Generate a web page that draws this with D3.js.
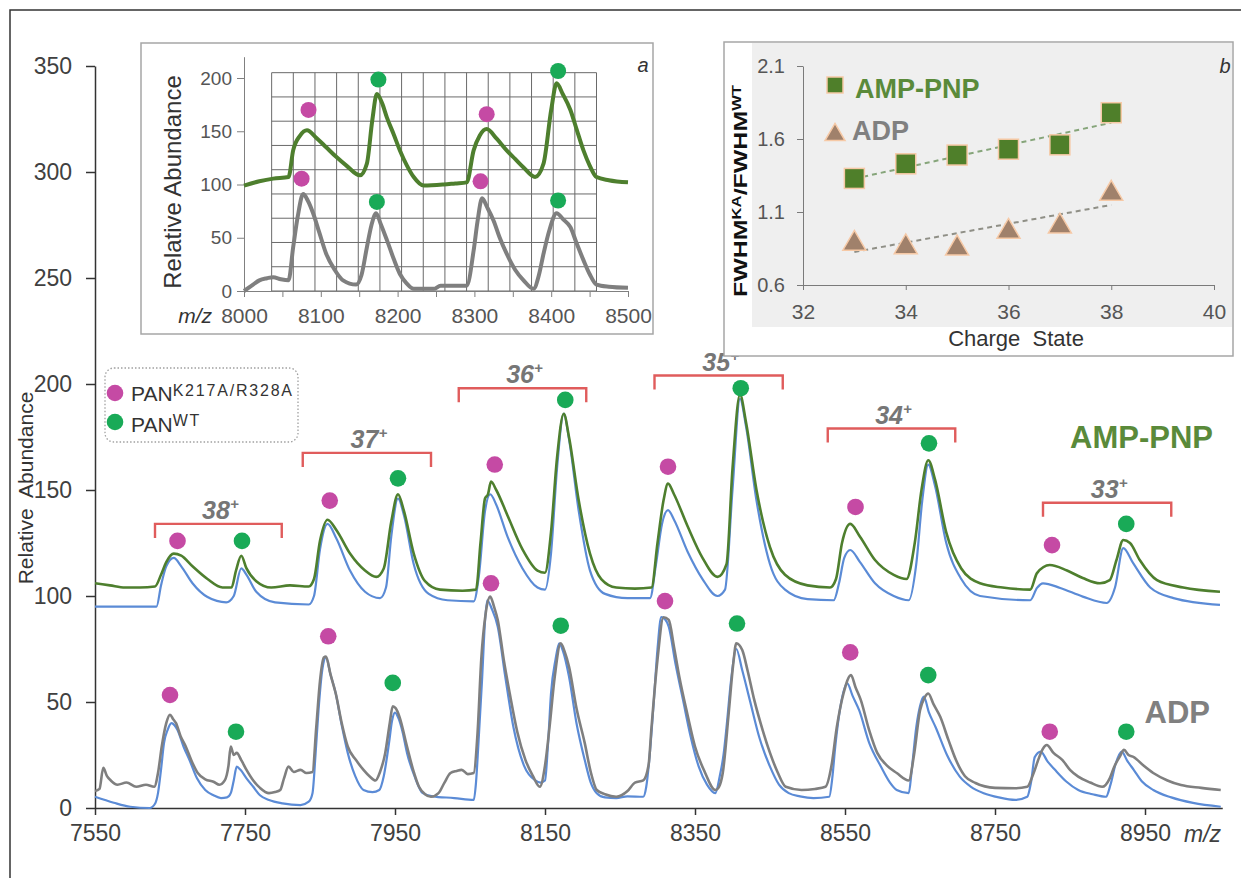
<!DOCTYPE html>
<html><head><meta charset="utf-8">
<script src="https://cdn.jsdelivr.net/npm/d3@7"></script>
<style>body{margin:0;background:#fff}svg{display:block}text{font-family:"Liberation Sans",Arial,sans-serif}</style>
</head><body><svg id="c" width="1241" height="878"></svg>
<script>
// ---------------- DATA ----------------
const mainXTicks = [7550,7750,7950,8150,8350,8550,8750,8950];
const mainYTicks = [0,50,100,150,200,250,300,350];

// AMP-PNP (upper) traces [m/z, relative abundance]
const ampGreen = [[7550,106],[7570,105],[7590,104],[7610,104],[7630,104.5],[7638,110],[7645,116],[7655,120],[7665,119],[7680,114],[7700,108],[7720,104],[7732,104],[7738,112],[7745,119],[7752,113],[7765,107],[7785,104],[7810,105],[7835,104.5],[7842,108],[7850,126],[7860,136],[7872,131],[7890,120],[7910,112],[7925,109],[7935,113],[7945,135],[7954,148],[7962,140],[7975,120],[7990,107],[8010,103],[8040,102.5],[8058,103],[8064,125],[8070,146],[8074,148],[8078,154],[8085,150],[8100,138],[8120,122],[8140,112],[8150,111],[8158,130],[8166,165],[8175,186],[8182,175],[8195,145],[8210,120],[8225,108],[8245,104],[8270,103.5],[8292,104],[8300,125],[8308,145],[8314,153],[8322,148],[8340,133],[8360,118],[8380,109],[8392,115],[8400,160],[8410,195],[8418,182],[8432,150],[8450,123],[8470,110],[8500,105],[8530,104],[8538,108],[8546,125],[8557,134],[8570,128],[8590,117],[8615,110],[8632,108],[8643,125],[8652,150],[8661,164],[8670,155],[8685,130],[8705,113],[8730,106],[8760,104],[8797,103],[8806,110.8],[8823,114.6],[8846,112],[8867,108.5],[8890,106],[8903,107.5],[8912,117],[8921,126.4],[8930,125],[8943,117],[8966,107.5],[9001,104],[9050,102]];
const ampBlue = [[7550,95],[7600,95],[7632,95],[7638,105],[7645,114],[7655,118],[7665,114],[7680,106],[7700,99.5],[7725,97],[7735,100],[7745,113],[7752,110],[7765,102],[7790,97],[7835,96],[7842,100],[7850,122],[7860,134],[7872,127],[7890,112],[7910,102],[7930,99],[7938,104],[7945,128],[7954,146],[7962,138],[7975,115],[7995,101],[8020,98],[8055,97.5],[8062,110],[8070,140],[8077,148],[8085,143],[8100,128],[8120,113],[8140,104],[8150,103],[8158,120],[8166,160],[8175,186],[8182,174],[8195,140],[8210,112],[8230,101],[8260,99],[8290,99],[8298,115],[8306,134],[8314,140.5],[8322,136],[8340,121],[8360,108],[8380,100],[8390,103],[8400,150],[8410,193],[8418,180],[8432,145],[8450,115],[8470,103],[8500,98.5],[8535,98],[8542,106],[8549,118],[8557,121.7],[8570,116],[8590,106],[8615,100],[8635,98],[8645,115],[8653,145],[8661,162],[8670,152],[8685,125],[8705,108],[8730,100],[8797,98],[8806,103.8],[8814,106],[8837,103.8],[8867,99.7],[8899,96.7],[8910,104],[8921,122.6],[8934,115.6],[8957,104],[8988,99],[9050,95.8]];

// ADP (lower) traces
const adpGray = [[7550,8],[7556,9],[7561,19],[7566,15],[7571,13],[7580,11],[7592,12],[7605,10],[7618,11],[7629,10],[7634,16.5],[7639,29],[7645,40],[7650,44],[7654,42],[7658,40],[7664,34],[7671,29],[7679,22],[7687,16.5],[7697,13.5],[7708,12.4],[7716,11],[7723,13],[7728,20],[7731,29],[7735,25],[7739,26],[7745,22.6],[7752,18],[7761,13],[7770,9.5],[7782,7],[7790,7.5],[7797,8.5],[7802,14],[7808,19.5],[7815,17],[7824,18],[7832,16.5],[7840,17],[7845,38],[7850,60],[7855,71],[7858,71.4],[7864,63],[7871,54],[7879,40],[7887,29],[7898,22.6],[7908,18],[7916,15],[7924,13],[7930,17],[7937,26],[7943,40],[7947,48],[7951,47],[7956,43],[7966,29],[7975,17],[7982,10],[7990,6.5],[7998,5.3],[8008,7],[8016,12],[8024,16.5],[8032,17.5],[8039,18],[8047,16],[8055,16.5],[8060,35],[8065,70],[8071,92],[8077,99.7],[8082,95],[8087,88.7],[8095,70],[8103,54],[8113,36],[8124,22.6],[8134,15],[8143,10],[8150,20],[8156,38],[8163,62],[8171,77.7],[8176,74],[8182,66.7],[8192,47],[8203,30.6],[8211,17],[8219,8.5],[8230,6.5],[8245,5.3],[8260,8],[8270,12],[8281,13],[8288,20],[8292,38],[8300,70],[8308,90],[8315,88.7],[8322,76],[8329,62],[8340,44],[8350,29],[8363,17],[8377,8.5],[8382,10],[8387,16.5],[8395,45],[8401,68],[8405,77.7],[8413,74.5],[8420,65],[8429,51],[8440,37],[8450,26],[8460,17],[8471,10],[8492,8.5],[8510,9],[8524,10],[8532,20],[8539,38],[8548,54],[8558,62.7],[8564,57],[8571,51],[8582,37],[8593,26],[8606,20],[8619,16.5],[8635,13],[8642,25],[8650,46],[8656,52],[8661,54],[8668,49],[8677,43],[8688,32],[8698,22.6],[8710,15],[8724,11.8],[8750,9.5],[8777,9.3],[8793,10],[8801,16],[8809,24],[8814,28],[8819,29.7],[8828,26],[8840,22.6],[8850,18],[8861,14.8],[8877,12],[8893,10],[8903,14],[8909,19.5],[8916,24],[8922,27.4],[8928,25],[8935,24],[8948,20],[8961,16.5],[8980,13],[8998,10.8],[9025,9.5],[9051,8.5]];
const adpBlue = [[7550,5.3],[7575,2.5],[7597,0.6],[7623,0],[7630,2],[7634,7],[7638,18],[7642,30.6],[7647,37],[7652,40],[7656,39],[7660,36.8],[7668,29],[7676,22.6],[7686,14],[7697,8.5],[7708,6],[7718,4.7],[7726,5],[7731,7],[7735,13],[7739,19.5],[7744,18],[7752,14],[7761,10],[7770,6],[7782,3.8],[7800,2.2],[7824,1.4],[7835,3],[7840,7],[7844,25],[7848,46],[7853,65],[7858,71],[7864,63],[7871,54],[7879,39],[7887,26],[7897,15],[7908,8.5],[7920,7.5],[7929,8.5],[7935,15],[7942,30.6],[7946,41],[7950,45],[7955,42],[7960,36],[7966,26],[7976,15],[7987,7],[8000,5.5],[8029,4.7],[8055,3.8],[8058,12],[8061,29],[8066,60],[8070,88],[8073,98],[8079,94],[8087,85.5],[8097,62],[8108,38],[8122,20],[8137,13],[8144,12],[8150,13],[8154,30],[8158,54],[8164,70],[8169,77.7],[8174,74],[8182,62],[8192,40],[8203,22.6],[8211,12],[8219,7],[8230,5],[8245,4.7],[8260,5.5],[8281,5.3],[8285,10],[8289,22.6],[8295,50],[8300,75],[8305,90],[8310,89],[8315,85.5],[8324,68],[8334,51],[8344,34],[8355,19.5],[8366,11],[8377,7],[8383,15],[8388,25],[8392,38],[8398,60],[8405,75],[8413,65],[8423,51],[8436,33],[8450,19.5],[8462,11],[8475,7],[8490,5.5],[8508,4.7],[8529,5.3],[8533,14],[8537,29],[8544,48],[8553,58.8],[8560,53],[8569,46],[8582,31],[8598,19.5],[8610,12],[8619,8.5],[8635,7],[8639,18],[8645,38],[8650,48],[8655,52.5],[8662,45],[8671,38],[8686,25],[8703,14.8],[8718,10],[8735,7],[8755,5],[8777,3.8],[8793,5.3],[8798,12],[8803,24],[8811,26.6],[8820,22],[8830,18],[8845,12.5],[8861,8.5],[8880,6.5],[8898,5.3],[8904,11],[8911,21],[8919,26.6],[8926,22.5],[8935,18],[8946,12.5],[8961,8.5],[8985,5],[9014,2.4],[9051,0.6]];

// peak markers
const ampMutDots = [[7660,126],[7863,145],[8083,162],[8314,161],[8564,142],[8826,124]];
const ampWtDots  = [[7746,126],[7954,155.5],[8177,192.5],[8411,198],[8662,172],[8925,134]];
const adpMutDots = [[7650,53.3],[7861,81],[8078,106],[8310,97.6],[8557,73.4],[8823,36]];
const adpWtDots  = [[7738,36],[7947,59],[8171,86],[8406,87],[8661,62.7],[8925,36]];

// charge-state brackets
const charges      = ["38","37","36","35","34","33"];
const bracketLo    = [7630,7827,8035,8296,8527,8814];
const bracketHi    = [7799,7998,8205,8467,8697,8985];
const bracketLevel = [134,167.5,198,204,179,144];

// inset a
const insetXTicks = [8000,8050,8100,8150,8200,8250,8300,8350,8400,8450,8500];
const insetYTicks = [0,50,100,150,200];
const insetGreen = [[8000,99],[8020,103],[8038,105.5],[8058,107],[8064,132],[8073,146],[8082,151],[8094,144],[8107,135],[8120,126],[8133,118],[8151,108.6],[8160,119.6],[8167,160],[8173,185],[8180,176],[8186,163],[8195,147],[8203,132],[8212,118],[8221,107],[8234,99],[8260,100],[8275,101],[8290,102],[8299,132],[8307,146],[8316,152],[8329,143],[8342,132],[8353,124],[8364,116],[8379,107],[8390,119.6],[8400,170],[8407,195],[8415,185],[8425,170],[8433,152],[8442,132],[8450,118],[8459,107],[8475,104],[8500,102]];
const insetGray = [[8000,0],[8010,5],[8020,10],[8030,12],[8038,13],[8048,11],[8058,10],[8064,41],[8070,70],[8077,91],[8083,85],[8090,73],[8098,55],[8107,35],[8118,20],[8129,10],[8146,6],[8153,15],[8160,41],[8166,62],[8172,73],[8178,63],[8186,48],[8195,30],[8203,16],[8212,7],[8221,2],[8247,2],[8256,5],[8275,5],[8290,5],[8299,38],[8304,65],[8310,87],[8317,78],[8325,66],[8333,50],[8342,35],[8353,20],[8364,10],[8377,2],[8384,15],[8390,35],[8398,58],[8407,73],[8416,67],[8425,60],[8433,45],[8442,29],[8450,16],[8459,6],[8475,4],[8500,3]];
const insetMutDots = [[8084,170],[8075,105.5],[8316,166],[8308,103]];
const insetWtDots  = [[8175,198.5],[8173,83.6],[8409,206.6],[8409,85]];

// inset b
const chargeState = [33,34,35,36,37,38];
const fwhmAmp = [1.33,1.43,1.49,1.53,1.56,1.78];
const fwhmAdp = [0.906,0.882,0.874,0.988,1.024,1.249];
const bXTicks = [32,34,36,38,40];
const bYTicks = [0.6,1.1,1.6,2.1];

// ---------------- DRAW ----------------
const svg = d3.select("#c");
const C = {green:"#4e7f2e", blue:"#5b8bd6", gray:"#7f7f7f", mag:"#c54aa4", wt:"#19aa57", red:"#e05c5c",
           label:"#404040", ampTxt:"#5a8a3a", adpTxt:"#808080"};
const fmtInt = d3.format("d");

// outer frame
svg.append("rect").attr("x",10).attr("y",10).attr("width",1300).attr("height",900)
  .attr("fill","none").attr("stroke","#333").attr("stroke-width",1.5);

function styleAxis(g, size, color, stroke){
  g.attr("font-family",'"Liberation Sans", Arial, sans-serif').attr("font-size",size);
  g.selectAll("text").attr("fill",color);
  g.selectAll("line,path").attr("stroke",stroke);
}

// ---- main chart ----
const x = d3.scaleLinear().domain([7550, 9053]).range([95, 1222.25]);
const y = d3.scaleLinear().domain([0, 350]).range([808, 66]);

const gy = svg.append("g").attr("transform",`translate(${x(7550)},0)`)
  .call(d3.axisLeft(y).tickValues(mainYTicks).tickSize(9).tickPadding(14).tickSizeOuter(0).tickFormat(fmtInt));
styleAxis(gy, 23, C.label, "#333");
gy.selectAll("line,path").attr("stroke-width",1.5);
const gx = svg.append("g").attr("transform",`translate(0,${y(0)})`)
  .call(d3.axisBottom(x).tickValues(mainXTicks).tickSize(7).tickPadding(10).tickSizeOuter(0).tickFormat(fmtInt));
styleAxis(gx, 23, C.label, "#333");
gx.selectAll("line,path").attr("stroke-width",1.5);

svg.append("text").attr("x",1184).attr("y",842).attr("font-size",23).attr("font-style","italic")
  .attr("fill",C.label).text("m/z");
svg.append("text").attr("transform","translate(33,488) rotate(-90)").attr("text-anchor","middle")
  .attr("font-size",21).attr("fill","#333").attr("xml:space","preserve").text("Relative  Abundance");

const line = d3.line().x(d=>x(d[0])).y(d=>y(d[1])).curve(d3.curveMonotoneX);
[[adpBlue,C.blue,2.2],[adpGray,C.gray,2.6],[ampBlue,C.blue,2.2],[ampGreen,C.green,2.6]].forEach(([d,c,w])=>{
  svg.append("path").datum(d).attr("d",line).attr("fill","none").attr("stroke",c)
    .attr("stroke-width",w).attr("stroke-linejoin","round");
});

function dots(data, color, sx, sy, r){
  svg.append("g").selectAll("circle").data(data).join("circle")
    .attr("cx",d=>sx(d[0])).attr("cy",d=>sy(d[1])).attr("r",r).attr("fill",color);
}
dots(ampMutDots, C.mag, x, y, 8.3); dots(ampWtDots, C.wt, x, y, 8.3);
dots(adpMutDots, C.mag, x, y, 8.3); dots(adpWtDots, C.wt, x, y, 8.3);

// brackets
charges.forEach((z,i)=>{
  const x0=x(bracketLo[i]), x1=x(bracketHi[i]), yy=y(bracketLevel[i]);
  svg.append("path").attr("d",`M${x0},${yy+14}V${yy}H${x1}V${yy+14}`).attr("fill","none")
    .attr("stroke",C.red).attr("stroke-width",2.4);
  const t = svg.append("text").attr("x",(x0+x1)/2+2).attr("y",yy-5).attr("text-anchor","middle")
    .attr("font-size",25).attr("font-weight","bold").attr("font-style","italic").attr("fill","#767676");
  t.append("tspan").text(z);
  t.append("tspan").attr("font-size",15).attr("dy",-10).text("+");
});

svg.append("text").attr("x",1213).attr("y",448).attr("text-anchor","end").attr("font-size",31)
  .attr("font-weight","bold").attr("fill",C.ampTxt).text("AMP-PNP");
svg.append("text").attr("x",1210).attr("y",723).attr("text-anchor","end").attr("font-size",31)
  .attr("font-weight","bold").attr("fill",C.adpTxt).text("ADP");

// legend
svg.append("rect").attr("x",105).attr("y",368).attr("width",193).attr("height",74).attr("rx",9)
  .attr("fill","#fff").attr("stroke","#a0a0a0").attr("stroke-dasharray","1.5,2").attr("stroke-width",1.3);
svg.append("circle").attr("cx",115).attr("cy",393).attr("r",8.3).attr("fill",C.mag);
svg.append("circle").attr("cx",115).attr("cy",422).attr("r",8.3).attr("fill",C.wt);
const l1 = svg.append("text").attr("x",131).attr("y",401).attr("font-size",21).attr("fill","#333");
l1.append("tspan").text("PAN");
l1.append("tspan").attr("font-size",16).attr("dy",-5).attr("letter-spacing",1.8).text("K217A/R328A");
const l2 = svg.append("text").attr("x",131).attr("y",432).attr("font-size",21).attr("fill","#333");
l2.append("tspan").text("PAN");
l2.append("tspan").attr("font-size",16).attr("dy",-6).attr("letter-spacing",1.8).text("WT");

// ---- inset a ----
svg.append("rect").attr("x",141).attr("y",43).attr("width",512).attr("height",291)
  .attr("fill","#fff").attr("stroke","#a6a6a6").attr("stroke-width",1.5);
const xa = d3.scaleLinear().domain([8000,8500]).range([244,628]);
const ya = d3.scaleLinear().domain([0,220]).range([291,56.7]);
// grid
const gridX = d3.range(16).map(i=>8036 + i*(8459-8036)/15);
const gridY = d3.range(10).map(i=>i*205/9);
const grid = svg.append("g").attr("stroke","#6a6a6a").attr("stroke-width",1);
grid.selectAll(".v").data(gridX).join("line").attr("x1",d=>xa(d)).attr("x2",d=>xa(d))
  .attr("y1",ya(205)).attr("y2",ya(0));
grid.selectAll(".h").data(gridY).join("line").attr("y1",d=>ya(d)).attr("y2",d=>ya(d))
  .attr("x1",xa(8036)).attr("x2",xa(8459));

const gya = svg.append("g").attr("transform",`translate(${xa(8000)},0)`)
  .call(d3.axisLeft(ya).tickValues(insetYTicks).tickSize(7).tickPadding(5).tickSizeOuter(0).tickFormat(fmtInt));
styleAxis(gya, 19, "#555", "#808080");
const gxa = svg.append("g").attr("transform",`translate(0,${ya(0)})`)
  .call(d3.axisBottom(xa).tickValues(insetXTicks).tickSize(6).tickPadding(11).tickSizeOuter(0)
  .tickFormat(d=>d%100===0?fmtInt(d):""));
styleAxis(gxa, 21, "#555", "#808080");
svg.append("text").attr("x",212).attr("y",323).attr("text-anchor","end").attr("font-size",21)
  .attr("font-style","italic").attr("fill","#333").text("m/z");
svg.append("text").attr("transform","translate(181,182) rotate(-90)").attr("text-anchor","middle")
  .attr("font-size",24).attr("fill","#333").text("Relative Abundance");
svg.append("text").attr("x",643).attr("y",72).attr("text-anchor","middle").attr("font-size",20)
  .attr("font-style","italic").attr("fill","#333").text("a");

const lineA = d3.line().x(d=>xa(d[0])).y(d=>ya(d[1])).curve(d3.curveMonotoneX);
[[insetGray,C.gray],[insetGreen,C.green]].forEach(([d,c])=>{
  svg.append("path").datum(d).attr("d",lineA).attr("fill","none").attr("stroke",c)
    .attr("stroke-width",4).attr("stroke-linejoin","round");
});
dots(insetMutDots, C.mag, xa, ya, 8); dots(insetWtDots, C.wt, xa, ya, 8);

// ---- inset b ----
svg.append("rect").attr("x",724).attr("y",42).attr("width",509).attr("height",314)
  .attr("fill","#fff").attr("stroke","#a6a6a6").attr("stroke-width",1.5);
svg.append("rect").attr("x",752).attr("y",43).attr("width",480).attr("height",284).attr("fill","#efefef");
const xb = d3.scaleLinear().domain([32,40]).range([803,1214]);
const yb = d3.scaleLinear().domain([0.6,2.1]).range([285,66]);
const gyb = svg.append("g").attr("transform",`translate(${xb(32)},0)`)
  .call(d3.axisLeft(yb).tickValues(bYTicks).tickSize(6).tickPadding(12).tickSizeOuter(0).tickFormat(d3.format(".1f")));
styleAxis(gyb, 20, "#555", "#7a7a7a");
const gxb = svg.append("g").attr("transform",`translate(0,${yb(0.6)})`)
  .call(d3.axisBottom(xb).tickValues(bXTicks).tickSize(5).tickPadding(14).tickSizeOuter(0).tickFormat(fmtInt));
styleAxis(gxb, 21, "#555", "#7a7a7a");
svg.append("text").attr("x",1016).attr("y",346).attr("text-anchor","middle").attr("font-size",22)
  .attr("fill","#333").attr("xml:space","preserve").text("Charge  State");
svg.append("text").attr("x",1225).attr("y",73).attr("text-anchor","middle").attr("font-size",20)
  .attr("font-style","italic").attr("fill","#333").text("b");
const yl = svg.append("text").attr("transform","translate(747,191) rotate(-90)").attr("text-anchor","middle")
  .attr("font-size",18).attr("font-weight","bold").attr("fill","#111")
  .attr("textLength",212).attr("lengthAdjust","spacingAndGlyphs");
yl.append("tspan").text("FWHM");
yl.append("tspan").attr("font-size",12).attr("dy",-6).text("KA");
yl.append("tspan").attr("dy",6).text("/FWHM");
yl.append("tspan").attr("font-size",12).attr("dy",-6).text("WT");

// trend lines (least-squares fits)
function fit(xs, ys){
  const mx=d3.mean(xs), my=d3.mean(ys);
  const s=d3.sum(xs,(v,i)=>(v-mx)*(ys[i]-my))/d3.sum(xs,v=>(v-mx)*(v-mx));
  return v=>my+s*(v-mx);
}
[[fwhmAmp,"#86a57a"],[fwhmAdp,"#8f8f86"]].forEach(([ys,c])=>{
  const f=fit(chargeState,ys);
  svg.append("line").attr("x1",xb(33)).attr("y1",yb(f(33))).attr("x2",xb(38)).attr("y2",yb(f(38)))
    .attr("stroke",c).attr("stroke-width",2).attr("stroke-dasharray","5,4");
});
function square(g,cx,cy,s){g.append("rect").attr("x",cx-s/2).attr("y",cy-s/2).attr("width",s).attr("height",s)
  .attr("fill","#4f7f2a").attr("stroke","#f6c9a6").attr("stroke-width",1.5);}
function tri(g,cx,cy,w){const h=w*0.86;g.append("path").attr("d",`M${cx},${cy-h/2}L${cx+w/2},${cy+h/2}L${cx-w/2},${cy+h/2}Z`)
  .attr("fill","#a0816b").attr("stroke","#f6c9a6").attr("stroke-width",1.5);}
const gb = svg.append("g");
chargeState.forEach((c,i)=>{ square(gb, xb(c), yb(fwhmAmp[i]), 20); tri(gb, xb(c), yb(fwhmAdp[i]), 23); });
square(gb, 835, 85, 16); tri(gb, 835, 132, 20);
svg.append("text").attr("x",855).attr("y",98).attr("font-size",27).attr("font-weight","bold")
  .attr("fill",C.ampTxt).text("AMP-PNP");
svg.append("text").attr("x",852).attr("y",140).attr("font-size",27).attr("font-weight","bold")
  .attr("fill",C.adpTxt).text("ADP");
</script></body></html>
